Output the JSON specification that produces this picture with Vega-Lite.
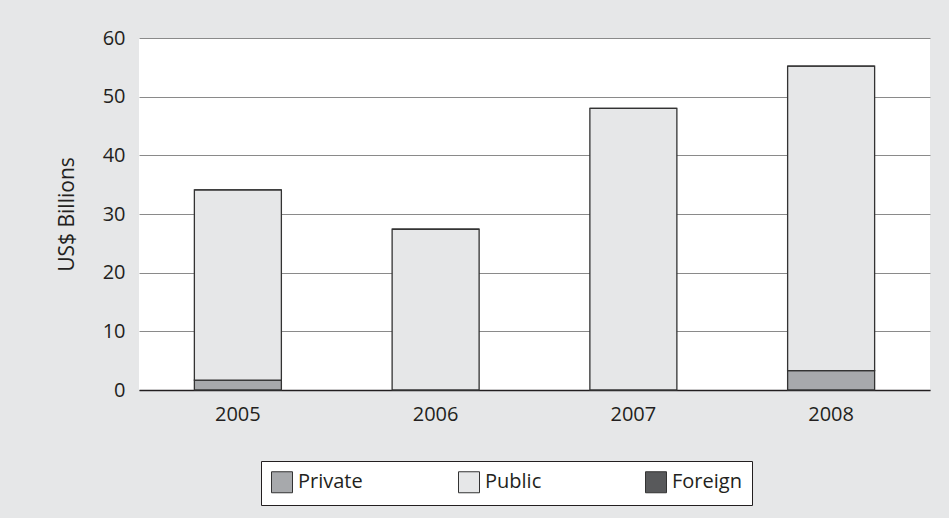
{
  "$schema": "https://vega.github.io/schema/vega-lite/v6.json",
  "width": 791,
  "height": 352,
  "autosize": {"type": "none"},
  "padding": {"left": 139, "top": 38, "right": 19, "bottom": 128},
  "background": "#e6e7e8",
  "config": {
    "font": "Open Sans",
    "view": {"fill": "white", "stroke": null}
  },
  "data": {
    "values": [
      {"year": "2005", "type": "Private", "order": 1, "value": 1.7},
      {"year": "2005", "type": "Public", "order": 2, "value": 32.4},
      {"year": "2005", "type": "Foreign", "order": 3, "value": 0},
      {"year": "2006", "type": "Private", "order": 1, "value": 0},
      {"year": "2006", "type": "Public", "order": 2, "value": 27.4},
      {"year": "2006", "type": "Foreign", "order": 3, "value": 0},
      {"year": "2007", "type": "Private", "order": 1, "value": 0},
      {"year": "2007", "type": "Public", "order": 2, "value": 48.0},
      {"year": "2007", "type": "Foreign", "order": 3, "value": 0},
      {"year": "2008", "type": "Private", "order": 1, "value": 3.3},
      {"year": "2008", "type": "Public", "order": 2, "value": 51.9},
      {"year": "2008", "type": "Foreign", "order": 3, "value": 0}
    ]
  },
  "mark": {"type": "bar", "stroke": "#333333", "strokeWidth": 1.3},
  "encoding": {
    "x": {
      "field": "year",
      "type": "ordinal",
      "scale": {"paddingInner": 0.56, "paddingOuter": 0.28},
      "axis": {
        "title": null,
        "labelAngle": 0,
        "labelFontSize": 20,
        "labelColor": "#231f20",
        "labelPadding": 14,
        "ticks": false,
        "domainColor": "#231f20",
        "domainWidth": 1.3
      }
    },
    "y": {
      "field": "value",
      "type": "quantitative",
      "aggregate": "sum",
      "stack": "zero",
      "scale": {"domain": [0, 60]},
      "axis": {
        "title": "US$ Billions",
        "titleFontSize": 21,
        "titleFontWeight": "normal",
        "titleColor": "#231f20",
        "titlePadding": 25,
        "values": [0, 10, 20, 30, 40, 50, 60],
        "labelFontSize": 20,
        "labelColor": "#231f20",
        "labelPadding": 14,
        "ticks": false,
        "domain": false,
        "gridColor": "#8a8a8a",
        "gridWidth": 1
      }
    },
    "color": {
      "field": "type",
      "type": "nominal",
      "scale": {
        "domain": ["Private", "Public", "Foreign"],
        "range": ["#a7a9ac", "#e6e7e8", "#58595b"]
      },
      "legend": {
        "title": null,
        "orient": "none",
        "legendX": 122,
        "legendY": 423,
        "direction": "horizontal",
        "columns": 3,
        "gridAlign": "all",
        "columnPadding": 88,
        "padding": 10,
        "strokeColor": "#231f20",
        "fillColor": "white",
        "symbolType": "square",
        "symbolSize": 441,
        "symbolStrokeColor": "#333333",
        "symbolStrokeWidth": 1,
        "symbolOpacity": 1,
        "labelFontSize": 20,
        "labelColor": "#231f20",
        "labelOffset": 5
      }
    },
    "order": {"field": "order", "type": "quantitative"}
  }
}
